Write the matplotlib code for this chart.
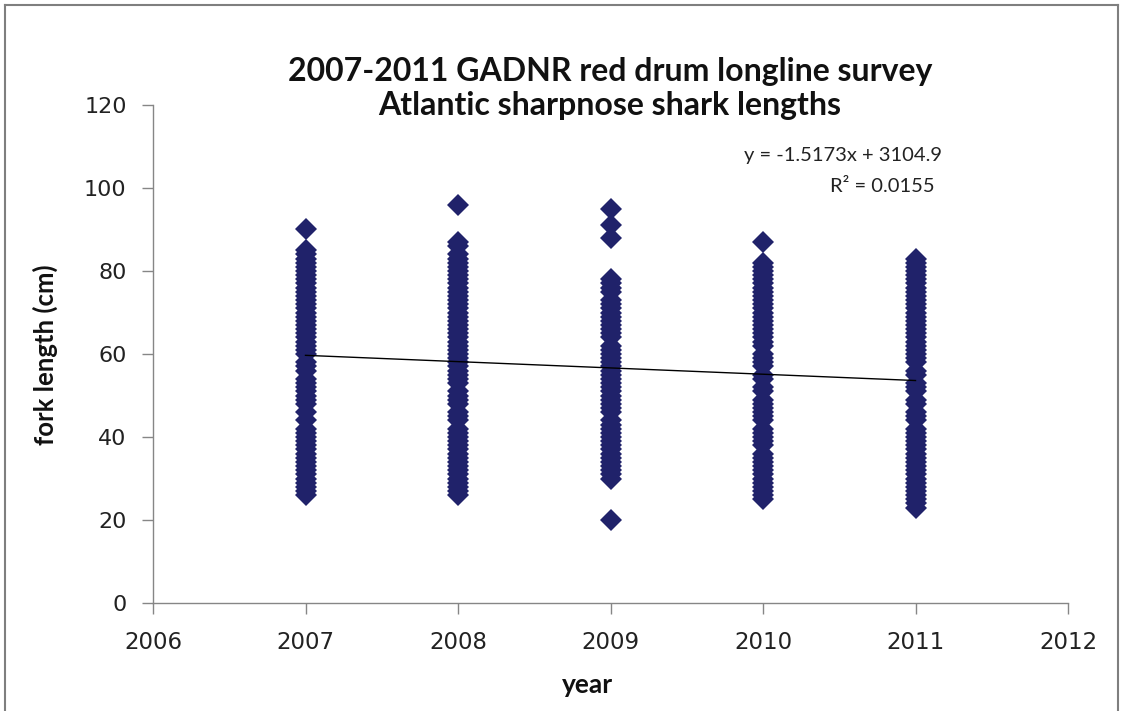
import matplotlib
matplotlib.use("Agg")
import matplotlib.pyplot as plt
from matplotlib.lines import Line2D
import numpy as np

# ---- data (fork length in cm) ----
years = [2007, 2008, 2009, 2010, 2011]
len_2007 = [90, 85, 84, 83, 82, 81, 80, 79, 78, 77, 76, 75, 74, 73, 72, 71, 70, 69, 68, 67, 66, 65,
            64, 63, 62, 61, 60, 58, 57, 56, 54, 53, 52, 51, 50, 49, 48, 46, 44, 42, 41, 40, 39,
            38, 37, 36, 35, 34, 33, 32, 31, 30, 29, 28, 27, 26]
len_2008 = [96, 87, 86, 84, 83, 82, 81, 80, 79, 78, 77, 76, 75, 74, 73, 72, 71, 70, 69, 68, 67, 66,
            65, 64, 63, 62, 61, 60, 59, 58, 57, 56, 55, 54, 53, 51, 50, 49, 48, 46, 45, 44, 42,
            41, 40, 39, 38, 37, 36, 35, 34, 33, 32, 31, 30, 29, 28, 27, 26]
len_2009 = [95, 91, 88, 78, 77, 76, 75, 73, 72, 71, 70, 69, 68, 67, 66, 65, 64, 62, 61, 60, 59, 58,
            57, 56, 55, 54, 53, 52, 51, 50, 49, 48, 47, 46, 44, 43, 42, 41, 40, 39, 38, 37, 36,
            35, 34, 33, 32, 31, 30, 20]
len_2010 = [87, 82, 81, 80, 79, 78, 77, 76, 75, 74, 73, 72, 71, 70, 69, 68, 67, 66, 65, 64, 63, 62,
            60, 59, 58, 57, 55, 54, 52, 51, 49, 48, 47, 46, 45, 44, 42, 41, 40, 39, 38, 36, 35,
            34, 33, 32, 31, 30, 29, 28, 27, 26, 25]
len_2011 = [83, 82, 81, 80, 79, 78, 77, 76, 75, 74, 73, 72, 71, 70, 69, 68, 67, 66, 65, 64, 63, 62,
            61, 60, 59, 58, 56, 55, 53, 52, 51, 49, 48, 46, 45, 44, 42, 41, 40, 39, 38, 37, 36,
            35, 34, 33, 32, 31, 30, 29, 28, 27, 26, 25, 24, 23]
lengths = [len_2007, len_2008, len_2009, len_2010, len_2011]

# linear trendline shown on the chart
trend_slope = -1.5173
trend_intercept = 3104.9
trend_r2 = 0.0155

x_ticks = [2006, 2007, 2008, 2009, 2010, 2011, 2012]
y_ticks = [0, 20, 40, 60, 80, 100, 120]

title_lines = ["2007-2011 GADNR red drum longline survey", "Atlantic sharpnose shark lengths"]
x_label = "year"
y_label = "fork length (cm)"

# ---- figure ----
W, H = 1123, 711
fig = plt.figure(figsize=(W / 100, H / 100), dpi=100)
fig.patch.set_facecolor("white")

ax = fig.add_axes([153 / W, 1 - 603 / H, (1068 - 153) / W, (603 - 105) / H])

marker_color = "#20226a"
for yr, vals in zip(years, lengths):
    ax.plot([yr] * len(vals), vals, linestyle="none", marker="D", markersize=10.8,
            markerfacecolor=marker_color, markeredgewidth=0, color=marker_color, zorder=3)

tx = np.array([years[0], years[-1]])
ax.plot(tx, trend_slope * tx + trend_intercept, color="black", linewidth=1.0, zorder=4)

ax.set_xlim(x_ticks[0], x_ticks[-1])
ax.set_ylim(y_ticks[0], y_ticks[-1])
ax.set_xticks(x_ticks)
ax.set_yticks(y_ticks)

spine_col = "#868686"
for s in ["top", "right"]:
    ax.spines[s].set_visible(False)
for s in ["left", "bottom"]:
    ax.spines[s].set_color(spine_col)
    ax.spines[s].set_linewidth(1.0)
ax.tick_params(axis="both", direction="out", length=8, width=1.0, color=spine_col,
               labelsize=16, labelcolor="#222222")
ax.tick_params(axis="y", pad=11)
ax.tick_params(axis="x", pad=12, labelsize=16.5)

for lab in ax.get_xticklabels() + ax.get_yticklabels():
    lab.set_fontfamily("DejaVu Sans")

tfont = dict(family="Lato", fontweight="bold", color="#111111")
fig.text(610 / W, 1 - 72 / H, title_lines[0], ha="center", va="center", fontsize=23, **tfont)
fig.text(610 / W, 1 - 106 / H, title_lines[1], ha="center", va="center", fontsize=23, **tfont)

fig.text(587 / W, 1 - 685 / H, x_label, ha="center", va="center", fontsize=19, **tfont)
fig.text(45 / W, 1 - 355 / H, y_label, ha="center", va="center", rotation=90, fontsize=18.5, **tfont)

efont = dict(family="Lato", color="#222222", fontsize=14.5)
fig.text(843 / W, 1 - 155 / H, f"y = {trend_slope}x + {trend_intercept}", ha="center", va="center", **efont)
fig.text(882 / W, 1 - 187 / H, f"R\u00b2 = {trend_r2}", ha="center", va="center", **efont)

# outer chart frame (left, top, right edges visible)
fc = "#7f7f7f"
fig.add_artist(Line2D([5 / W, 5 / W], [0, 1 - 5 / H], transform=fig.transFigure, color=fc, lw=1.5))
fig.add_artist(Line2D([5 / W, 1118 / W], [1 - 5 / H, 1 - 5 / H], transform=fig.transFigure, color=fc, lw=1.5))
fig.add_artist(Line2D([1118 / W, 1118 / W], [0, 1 - 5 / H], transform=fig.transFigure, color=fc, lw=1.5))

fig.savefig("out.png", dpi=100, facecolor="white")
